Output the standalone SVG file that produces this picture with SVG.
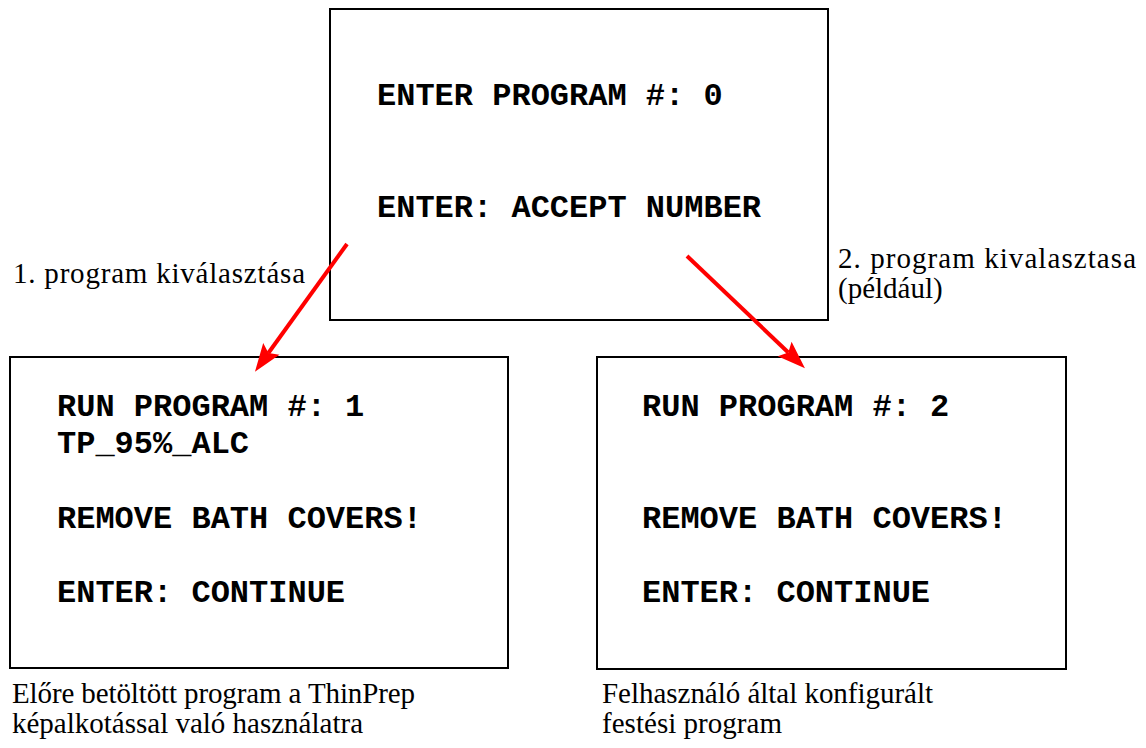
<svg xmlns="http://www.w3.org/2000/svg" width="1146" height="748" viewBox="0 0 1146 748">
  <style>
    .screen { fill: #fff; stroke: #000; stroke-width: 2; }
    .mono { font-family: "Liberation Mono", "Courier New", monospace; font-weight: bold; font-size: 32px; fill: #000; }
    .label { font-family: "Liberation Serif", "Times New Roman", serif; font-size: 29px; fill: #000; }
    .arrow { stroke: #ff0000; stroke-width: 4; fill: none; marker-end: url(#head); }
  </style>
  <defs>
    <marker id="head" markerUnits="userSpaceOnUse" markerWidth="28" markerHeight="20" refX="5" refY="10" orient="auto" overflow="visible">
      <path d="M0,0 L28,10 L0,20 L5,10 z" fill="#ff0000"/>
    </marker>
  </defs>
  <rect width="1146" height="748" fill="#fff"/>

  <!-- Program selection screen -->
  <g id="screen-enter">
    <rect class="screen" x="330" y="9" width="498" height="311"/>
    <text class="mono" x="377" y="105">ENTER PROGRAM #: 0</text>
    <text class="mono" x="377" y="217">ENTER: ACCEPT NUMBER</text>
  </g>

  <!-- Program 1 screen -->
  <g id="screen-program1">
    <rect class="screen" x="10" y="357" width="498" height="311"/>
    <text class="mono" x="57" y="416">RUN PROGRAM #: 1</text>
    <text class="mono" x="57" y="453">TP_95%_ALC</text>
    <text class="mono" x="57" y="528">REMOVE BATH COVERS!</text>
    <text class="mono" x="57" y="602">ENTER: CONTINUE</text>
  </g>

  <!-- Program 2 screen -->
  <g id="screen-program2">
    <rect class="screen" x="597" y="357" width="469" height="312"/>
    <text class="mono" x="642" y="416">RUN PROGRAM #: 2</text>
    <text class="mono" x="642" y="528">REMOVE BATH COVERS!</text>
    <text class="mono" x="642" y="602">ENTER: CONTINUE</text>
  </g>

  <!-- Captions -->
  <g id="caption-select1">
    <text class="label" x="13" y="283" textLength="292" lengthAdjust="spacing">1. program kiválasztása</text>
  </g>
  <g id="caption-select2">
    <text class="label" x="838" y="268" textLength="298" lengthAdjust="spacing">2. program kivalasztasa</text>
    <text class="label" x="838" y="298">(például)</text>
  </g>
  <g id="caption-program1">
    <text class="label" x="12" y="703" textLength="403" lengthAdjust="spacing">Előre betöltött program a ThinPrep</text>
    <text class="label" x="12" y="733" textLength="351" lengthAdjust="spacing">képalkotással való használatra</text>
  </g>
  <g id="caption-program2">
    <text class="label" x="602" y="703" textLength="331" lengthAdjust="spacing">Felhasználó által konfigurált</text>
    <text class="label" x="602" y="733" textLength="180" lengthAdjust="spacing">festési program</text>
  </g>

  <!-- Connectors -->
  <g id="connectors">
    <line class="arrow" x1="347" y1="244" x2="268.4" y2="353"/>
    <line class="arrow" x1="687" y1="256" x2="788.3" y2="352.5"/>
  </g>
</svg>
